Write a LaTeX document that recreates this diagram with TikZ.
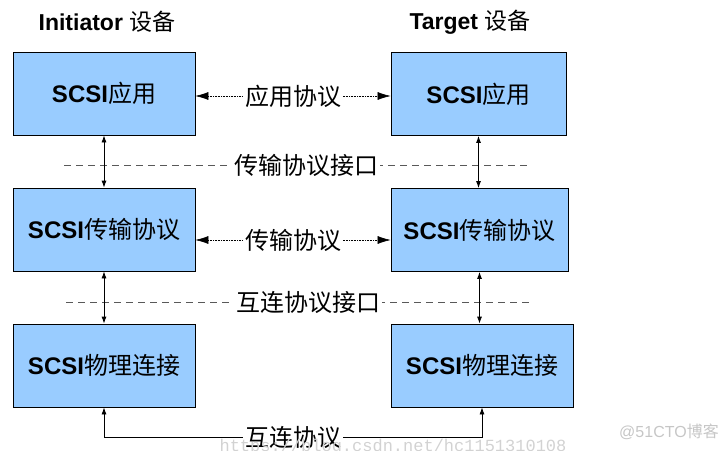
\documentclass[tikz,border=0pt]{standalone}
\usepackage{fontspec}
\setmainfont{Liberation Sans}
\setmonofont{Liberation Mono}
\newfontfamily\cjk{Noto Sans CJK SC}
\usetikzlibrary{arrows.meta}
\definecolor{boxblue}{HTML}{99CCFF}
\newcommand\zh[1]{{\cjk\mdseries #1}}

\begin{document}
\begin{tikzpicture}[x=1pt,y=-1pt,
  box/.style={draw,line width=0.8pt,fill=boxblue,minimum height=83pt,inner sep=0pt,font=\fontsize{24}{28}\selectfont\bfseries},
  title/.style={font=\fontsize{23}{27}\selectfont\bfseries},
  proto/.style={{Latex[length=13pt,width=8pt]}-{Latex[length=13pt,width=8pt]},densely dotted,line width=0.6pt},
  link/.style={{Latex[length=7pt,width=5pt]}-{Latex[length=7pt,width=5pt]},line width=0.8pt},
  iface/.style={dash pattern=on 7pt off 5pt,gray!70!black,line width=0.6pt},
  tag/.style={fill=white,inner sep=2pt,text=black,font=\fontsize{24}{28}\selectfont\cjk}]
 \useasboundingbox (0,0) rectangle (728,450);
 % the two devices
 \node[title,name=initiator] at (107,22) {Initiator \zh{设备}};
 \node[title,name=target] at (470,22) {Target \zh{设备}};
 \node[box,minimum width=182pt,name=appI] at (104,93.5) {SCSI\zh{应用}};
 \node[box,minimum width=175pt,name=appT] at (478.5,94) {SCSI\zh{应用}};
 \node[box,minimum width=182pt,name=trnI] at (104,229.5) {SCSI\zh{传输协议}};
 \node[box,minimum width=177pt,name=trnT] at (479.5,230) {SCSI\zh{传输协议}};
 \node[box,minimum width=182pt,name=phyI] at (104,365.5) {SCSI\zh{物理连接}};
 \node[box,minimum width=182pt,name=phyT] at (482,365.5) {SCSI\zh{物理连接}};
 % interfaces
 \coordinate (trnA) at (64,165);
 \coordinate (trnB) at (530,165);
 \coordinate (phyA) at (66,302);
 \coordinate (phyB) at (532,302);
 \draw[iface] (trnA) -- node[tag,pos=0.52,name=trnIf] {传输协议接口} (trnB);
 \draw[iface] (phyA) -- node[tag,pos=0.52,name=phyIf] {互连协议接口} (phyB);
 \foreach \a/\b in {appI/trnI,appT/trnT,trnI/phyI,trnT/phyT} {
    \draw[link] (\a.south) -- (\a.south |- \b.north);
 }
 % peer protocols
 \coordinate (row1) at (0,96);
 \coordinate (row2) at (0,240);
 \coordinate (bus) at (0,437);
 \draw[proto] (appI.east |- row1) -- node[tag,name=appP] {应用协议} (appT.west |- row1);
 \draw[proto] (trnI.east |- row2) -- node[tag,name=trnP] {传输协议} (trnT.west |- row2);
 \draw[link] (phyI.south) -- (phyI.south |- bus) -- node[tag,name=phyP] {互连协议} (phyT.south |- bus) -- (phyT.south);
 % watermarks
 \node[text=gray!35,font=\fontsize{17}{20}\selectfont\ttfamily,name=csdn] at (393,447) {https://blog.csdn.net/hc1151310108};
 \node[text=gray!45,font=\fontsize{16}{19}\selectfont,name=cto] at (669,432) {@51CTO\zh{博客}};
\end{tikzpicture}
\end{document}
